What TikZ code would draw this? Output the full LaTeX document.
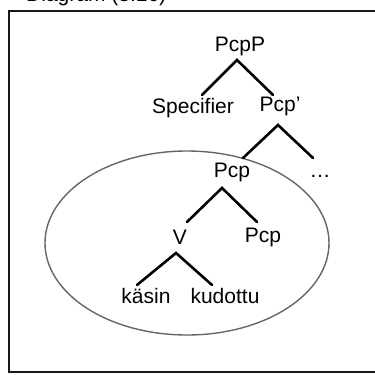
\documentclass[tikz,border=0pt]{standalone}
\usepackage{fontspec}
\setmainfont{Liberation Sans}
\begin{document}
\begin{tikzpicture}[x=1pt,y=-1pt,
  lbl/.style={inner sep=0pt,font=\fontsize{21}{23}\selectfont},
  branch/.style={line width=2.6pt,black,line cap=round},
  frame/.style={line width=2.6pt,black!90},
  ring/.style={line width=1.4pt,black!60}]
\useasboundingbox (0,0) rectangle (375,375);
\clip (0,0) rectangle (375,375);
\node[lbl,anchor=base west] (title) at (26,1.5) {Diagram (3.16)};
\draw[frame] (9,11) rectangle (385,372);
\draw[ring] (187,243) ellipse [x radius=142, y radius=92];
% labels
\node[lbl] (pcpP) at (240,46) {PcpP};
\node[lbl] (spec) at (193,108) {Specifier};
\node[lbl] (pcpbar) at (280,106) {Pcp{\char"27}};
\node[lbl] (pcp) at (232,172) {Pcp};
\node[lbl] (dots) at (320,176) {\dots};
\node[lbl] (v) at (180,237) {V};
\node[lbl] (pcp2) at (263,237) {Pcp};
\node[lbl] (kasin) at (146,296) {käsin};
\node[lbl] (kudottu) at (225,296) {kudottu};
% branch points
\coordinate (a1) at (237,60);
\coordinate (a1l) at (202,95);
\coordinate (a1r) at (273,95);
\coordinate (a2) at (278,125);
\coordinate (a2l) at (243,158);
\coordinate (a2r) at (313,158);
\coordinate (a3) at (222,188);
\coordinate (a3l) at (187,222);
\coordinate (a3r) at (257,222);
\coordinate (a4) at (176,253);
\coordinate (a4l) at (137,285);
\coordinate (a4r) at (212,285);
\draw[branch] (a1l) -- (a1) -- (a1r);
\draw[branch] (a2l) -- (a2) -- (a2r);
\draw[branch] (a3l) -- (a3) -- (a3r);
\draw[branch] (a4l) -- (a4) -- (a4r);
\end{tikzpicture}
\end{document}
